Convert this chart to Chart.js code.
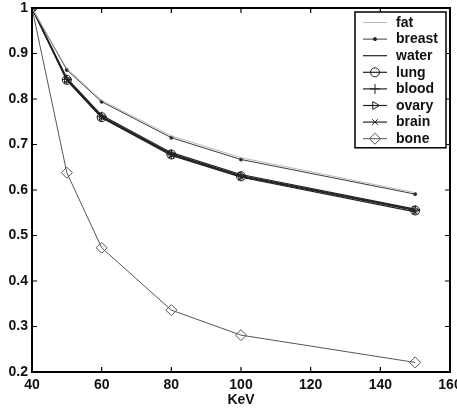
<!DOCTYPE html>
<html>
<head>
<meta charset="utf-8">
<script src="https://cdn.jsdelivr.net/npm/chart.js@4/dist/chart.umd.min.js"></script>
<style>
html,body{margin:0;padding:0;background:#fff;}
#wrap{width:457px;height:409px;position:relative;}
</style>
</head>
<body>
<div id="wrap"><canvas id="c" width="457" height="409"></canvas></div>
<script>
const energies = [40, 50, 60, 80, 100, 150];
const fat    = [1, 0.867, 0.797, 0.719, 0.671, 0.594];
const breast = [1, 0.864, 0.794, 0.715, 0.667, 0.591];
const water  = [1, 0.846, 0.764, 0.682, 0.634, 0.558];
const lung   = [1, 0.842, 0.760, 0.678, 0.630, 0.555];
const blood  = [1, 0.843, 0.761, 0.679, 0.631, 0.556];
const ovary  = [1, 0.843, 0.761, 0.679, 0.631, 0.556];
const brain  = [1, 0.841, 0.759, 0.676, 0.628, 0.552];
const bone   = [1, 0.638, 0.473, 0.336, 0.281, 0.221];
const seriesNames = ['fat','breast','water','lung','blood','ovary','brain','bone'];
const xTicks = [40, 60, 80, 100, 120, 140, 160];
const yTicks = [0.2, 0.3, 0.4, 0.5, 0.6, 0.7, 0.8, 0.9, 1];

const FONT = 'Liberation Sans, Arial, sans-serif';
const pts = arr => energies.map((e, i) => ({x: e, y: arr[i]}));

const styles = {
  fat:    {color:'#b8b8b8', width:1,   point:false, r:0},
  breast: {color:'#3a3a3a', width:1,   point:'circle', r:1.6, fill:'#222'},
  water:  {color:'#222',    width:1.2, point:false, r:0},
  lung:   {color:'#222',    width:1.2, point:'circle', r:4.5},
  blood:  {color:'#222',    width:1.2, point:'cross', r:5},
  ovary:  {color:'#222',    width:1.2, point:'triangle', r:4.5, rot:90},
  brain:  {color:'#222',    width:1.2, point:'crossRot', r:4},
  bone:   {color:'#555',    width:1,   point:'rectRot', r:5.5}
};
const seriesData = {fat, breast, water, lung, blood, ovary, brain, bone};

const datasets = seriesNames.map(n => {
  const s = styles[n];
  return {
    label: n,
    data: pts(seriesData[n]),
    borderColor: s.color,
    borderWidth: s.width,
    pointStyle: s.point || 'circle',
    pointRadius: s.point ? s.r : 0,
    pointRotation: s.rot || 0,
    pointBackgroundColor: s.fill || 'rgba(255,255,255,0)',
    pointBorderColor: s.color,
    pointBorderWidth: 1,
    tension: 0,
    fill: false
  };
});

const framePlugin = {
  id: 'frame',
  afterDatasetsDraw(chart) {
    const {ctx, chartArea: a, scales} = chart;
    ctx.save();
    ctx.strokeStyle = '#000';
    ctx.lineWidth = 2;
    ctx.strokeRect(a.left, a.top, a.right - a.left, a.bottom - a.top);
    ctx.lineWidth = 1.2;
    const tl = 5;
    xTicks.forEach(v => {
      const x = scales.x.getPixelForValue(v);
      ctx.beginPath();
      ctx.moveTo(x, a.bottom); ctx.lineTo(x, a.bottom - tl);
      ctx.moveTo(x, a.top); ctx.lineTo(x, a.top + tl);
      ctx.stroke();
    });
    yTicks.forEach(v => {
      const y = scales.y.getPixelForValue(v);
      ctx.beginPath();
      ctx.moveTo(a.left, y); ctx.lineTo(a.left + tl, y);
      ctx.moveTo(a.right, y); ctx.lineTo(a.right - tl, y);
      ctx.stroke();
    });
    // legend
    const bx = 355, by = 12, bw = 91, rowH = 16.6;
    const bh = rowH * chart.data.datasets.length + 3;
    ctx.fillStyle = '#fff';
    ctx.fillRect(bx, by, bw, bh);
    ctx.lineWidth = 1.5;
    ctx.strokeStyle = '#000';
    ctx.strokeRect(bx, by, bw, bh);
    ctx.font = 'bold 14px ' + FONT;
    ctx.textBaseline = 'middle';
    ctx.textAlign = 'left';
    chart.data.datasets.forEach((ds, i) => {
      const y = by + 10.5 + i * rowH;
      ctx.strokeStyle = ds.borderColor;
      ctx.lineWidth = ds.borderWidth;
      ctx.beginPath();
      ctx.moveTo(bx + 8, y); ctx.lineTo(bx + 32, y);
      ctx.stroke();
      if (ds.pointRadius > 0) {
        ctx.fillStyle = ds.pointBackgroundColor;
        ctx.strokeStyle = ds.pointBorderColor;
        ctx.lineWidth = 1;
        Chart.helpers.drawPoint(ctx, {pointStyle: ds.pointStyle, radius: ds.pointRadius, rotation: ds.pointRotation, borderWidth: 1}, bx + 20, y);
      }
      ctx.fillStyle = '#111';
      ctx.fillText(ds.label, bx + 41, y + 0.5);
    });
    ctx.restore();
  }
};

new Chart(document.getElementById('c'), {
  type: 'line',
  data: {datasets},
  options: {
    responsive: false,
    animation: false,
    devicePixelRatio: 1,
    layout: {padding: {left: 0, right: 7, top: 8, bottom: 0}},
    plugins: {legend: {display: false}, tooltip: {enabled: false}},
    scales: {
      x: {
        type: 'linear', min: 40, max: 160,
        afterBuildTicks: s => { s.ticks = xTicks.map(v => ({value: v})); },
        afterFit: s => { s.height = 37; s.paddingLeft = 0; s.paddingRight = 0; },
        grid: {display: false, drawTicks: false},
        border: {display: false},
        ticks: {color: '#111', padding: 5, maxRotation: 0, autoSkip: false,
                font: {family: FONT, size: 14, weight: 'bold'}},
        title: {display: true, text: 'KeV', color: '#111', padding: {top: -2, bottom: 0},
                font: {family: FONT, size: 14, weight: 'bold'}}
      },
      y: {
        type: 'linear', min: 0.2, max: 1,
        afterBuildTicks: s => { s.ticks = yTicks.map(v => ({value: v})); },
        afterFit: s => { s.width = 32; s.paddingTop = 0; s.paddingBottom = 0; },
        grid: {display: false, drawTicks: false},
        border: {display: false},
        ticks: {color: '#111', padding: 4, autoSkip: false,
                font: {family: FONT, size: 14, weight: 'bold'},
                callback: v => String(Math.round(v * 10) / 10)}
      }
    }
  },
  plugins: [framePlugin]
});
</script>
</body>
</html>
